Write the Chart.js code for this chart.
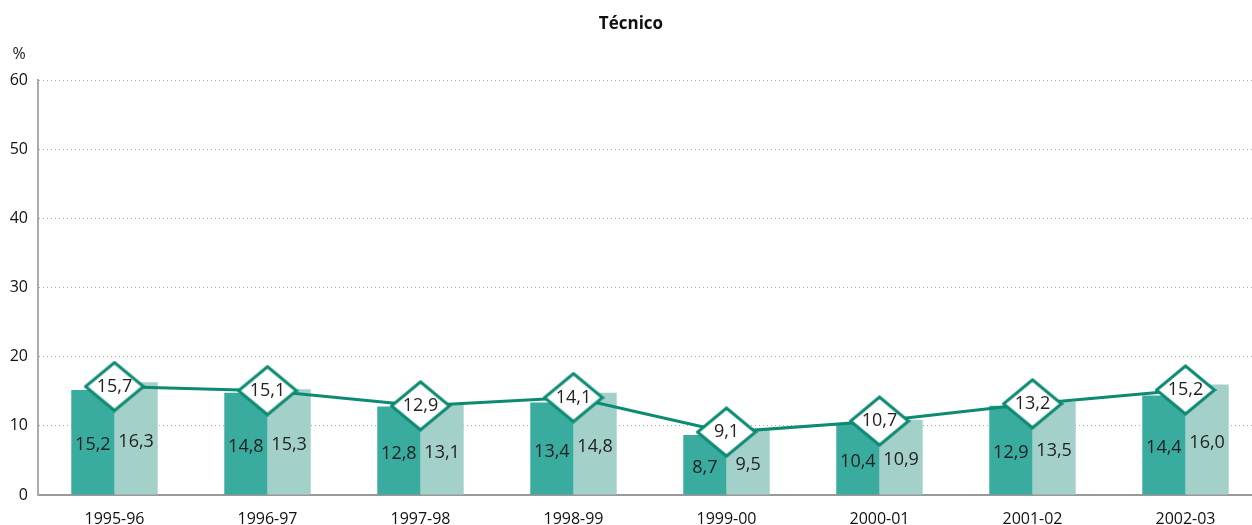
<!DOCTYPE html>
<html>
<head>
<meta charset="utf-8">
<script src="https://cdn.jsdelivr.net/npm/chart.js@4.4.0/dist/chart.umd.min.js"></script>
<style>
  html, body { margin: 0; padding: 0; background: #fff; overflow: hidden; }
  /* the plot runs a little past the right edge of the window */
  #wrap { width: 1262px; height: 525px; }
</style>
</head>
<body>
<div id="wrap"><canvas id="tecnicoChart"></canvas></div>
<script>
const years = ['1995-96', '1996-97', '1997-98', '1998-99', '1999-00', '2000-01', '2001-02', '2002-03'];
const serieA = [15.2, 14.8, 12.8, 13.4, 8.7, 10.4, 12.9, 14.4];
const serieB = [16.3, 15.3, 13.1, 14.8, 9.5, 10.9, 13.5, 16.0];
const serieTotal = [15.7, 15.1, 12.9, 14.1, 9.1, 10.7, 13.2, 15.2];
const yTicks = [0, 10, 20, 30, 40, 50, 60];

const dark = '#3aab9f';
const light = '#a3d1c9';
const lineColor = '#0d8a72';
const font = '"Open Sans", "Noto Sans", sans-serif';

// white diamond used as the point marker of the line
function makeDiamond(w, h) {
    const c = document.createElement('canvas');
    c.width = w; c.height = h;
    const g = c.getContext('2d');
    g.beginPath();
    g.moveTo(w / 2, 2);
    g.lineTo(w - 2, h / 2);
    g.lineTo(w / 2, h - 2);
    g.lineTo(2, h / 2);
    g.closePath();
    g.fillStyle = '#fff';
    g.fill();
    g.lineWidth = 3;
    g.strokeStyle = lineColor;
    g.stroke();
    return c;
}
const diamond = makeDiamond(62, 52);

const fmt = v => v.toFixed(1).replace('.', ',');

// value labels: centred in bars, inside the diamonds for the line
const valueLabels = {
    id: 'valueLabels',
    afterDatasetsDraw(chart) {
        const ctx = chart.ctx;
        ctx.save();
        ctx.font = '18px ' + font;
        ctx.fillStyle = '#222';
        ctx.textAlign = 'center';
        ctx.textBaseline = 'middle';
        chart.data.datasets.forEach((ds, i) => {
            const meta = chart.getDatasetMeta(i);
            meta.data.forEach((el, j) => {
                const v = ds.data[j];
                if (ds.type === 'line') {
                    ctx.fillText(fmt(v), el.x, el.y);
                } else {
                    ctx.fillText(fmt(v), el.x, (el.y + el.base) / 2 + 3);
                }
            });
        });
        ctx.restore();
    }
};

// "%" unit above the y axis
const unitLabel = {
    id: 'unitLabel',
    afterDraw(chart) {
        const ctx = chart.ctx;
        const y = chart.scales.y;
        ctx.save();
        ctx.font = '16px ' + font;
        ctx.fillStyle = '#222';
        ctx.textAlign = 'center';
        ctx.textBaseline = 'middle';
        ctx.fillText('%', 19, y.top - 26);
        ctx.restore();
    }
};

new Chart(document.getElementById('tecnicoChart'), {
    data: {
        labels: years,
        datasets: [{
            type: 'line',
            data: serieTotal,
            borderColor: lineColor,
            borderWidth: 3,
            pointStyle: diamond,
            order: 0
        }, {
            type: 'bar',
            data: serieA,
            backgroundColor: dark,
            order: 1
        }, {
            type: 'bar',
            data: serieB,
            backgroundColor: light,
            order: 1
        }]
    },
    options: {
        responsive: true,
        maintainAspectRatio: false,
        animation: false,
        layout: { autoPadding: false, padding: 0 },
        datasets: {
            bar: { barPercentage: 1, categoryPercentage: 0.565 }
        },
        scales: {
            x: {
                afterFit: s => { s.height = 30; },
                grid: { display: false },
                border: { display: true, color: '#999', width: 2 },
                ticks: { color: '#111', font: { family: font, size: 16 }, padding: 7 }
            },
            y: {
                min: 0,
                max: 60,
                afterBuildTicks: s => { s.ticks = yTicks.map(v => ({ value: v })); },
                afterFit: s => { s.width = 38; },
                grid: { color: '#aaa', lineWidth: 1, drawTicks: false },
                border: { display: true, color: '#aaa', width: 2, dash: [1, 3] },
                ticks: { color: '#111', font: { family: font, size: 16 }, padding: 10 }
            }
        },
        plugins: {
            legend: { display: false },
            tooltip: { enabled: false },
            title: {
                display: true,
                text: 'Técnico',
                color: '#111',
                font: { family: font, size: 17, weight: 'bold' },
                padding: { top: 14, bottom: 46 }
            }
        }
    },
    plugins: [valueLabels, unitLabel]
});
</script>
</body>
</html>
